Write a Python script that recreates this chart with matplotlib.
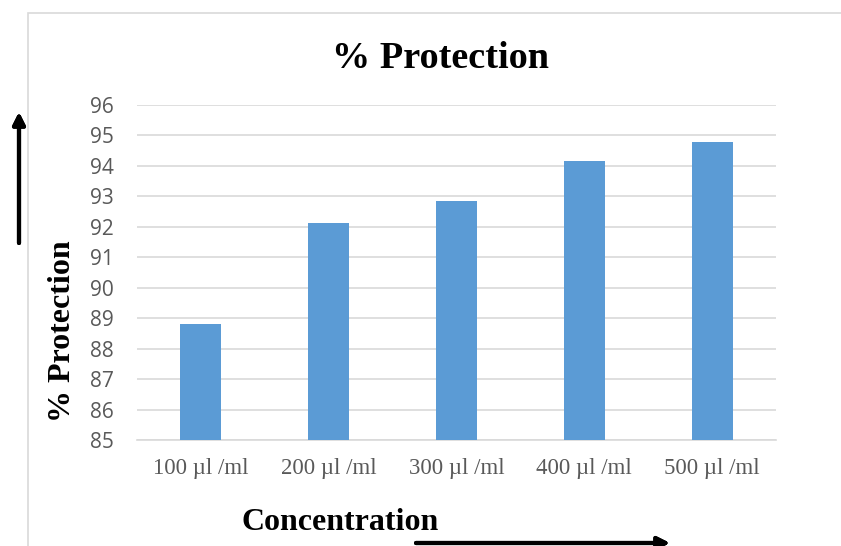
import matplotlib
matplotlib.use('Agg')
import matplotlib.pyplot as plt
from matplotlib.patches import Rectangle

# 数据
concentrations = ["100 µl /ml", "200 µl /ml", "300 µl /ml", "400 µl /ml", "500 µl /ml"]
protection = [88.82, 92.12, 92.86, 94.15, 94.80]
y_ticks = list(range(85, 97))

W, H = 841, 546
fig = plt.figure(figsize=(W / 100, H / 100), dpi=100)
fig.patch.set_facecolor('white')

# chart border (light gray, clipped on right/bottom)
fig.patches.append(Rectangle((27.5 / W, -0.1), 1.2, 1.1 - 13.5 / H,
                             transform=fig.transFigure, fill=False,
                             edgecolor='#D9D9D9', linewidth=1.2))

ax = fig.add_axes([137 / W, 1 - 440 / H, 639 / W, 335 / H])
x = range(len(concentrations))
ax.bar(x, protection, width=0.32, color='#5B9BD5', zorder=3)

ax.set_xlim(-0.5, len(concentrations) - 0.5)
ax.set_ylim(85, 96)
ax.set_yticks(y_ticks)
ax.yaxis.grid(True, color='#D9D9D9', linewidth=1.2, zorder=0)
for side in ['top', 'right', 'left']:
    ax.spines[side].set_visible(False)
ax.spines['bottom'].set_color('#D9D9D9')
ax.spines['bottom'].set_linewidth(1.2)
ax.tick_params(axis='both', length=0)
ax.tick_params(axis='y', pad=16.5, labelsize=15, labelcolor='#595959')
ax.tick_params(axis='x', pad=13, labelsize=16.5, labelcolor='#595959')
for lab in ax.get_yticklabels():
    lab.set_fontfamily('Open Sans')
ax.set_xticks(list(x))
ax.set_xticklabels(concentrations, fontfamily='Liberation Serif')

serif = 'Liberation Serif'
fig.text(441 / W, 1 - 58 / H, "% Protection", ha='center', va='center',
         fontsize=27.5, fontweight='bold', fontfamily=serif)
fig.text(63 / W, 1 - 331 / H, "% Protection", ha='center', va='center',
         rotation=90, fontsize=23, fontweight='bold', fontfamily=serif)
fig.text(340 / W, 1 - 523 / H, "Concentration", ha='center', va='center',
         fontsize=23, fontweight='bold', fontfamily=serif)

# 箭头
arrow = dict(arrowstyle='-|>', color='black', lw=3, mutation_scale=18,
             shrinkA=0, shrinkB=0)
fig.add_artist(plt.annotate("", xy=(19, H - 112), xytext=(19, H - 243),
                            xycoords='figure pixels', textcoords='figure pixels',
                            arrowprops=arrow))
fig.add_artist(plt.annotate("", xy=(670, H - 543), xytext=(416, H - 543),
                            xycoords='figure pixels', textcoords='figure pixels',
                            arrowprops=arrow))

plt.savefig('out.png', dpi=100)
plt.close()
